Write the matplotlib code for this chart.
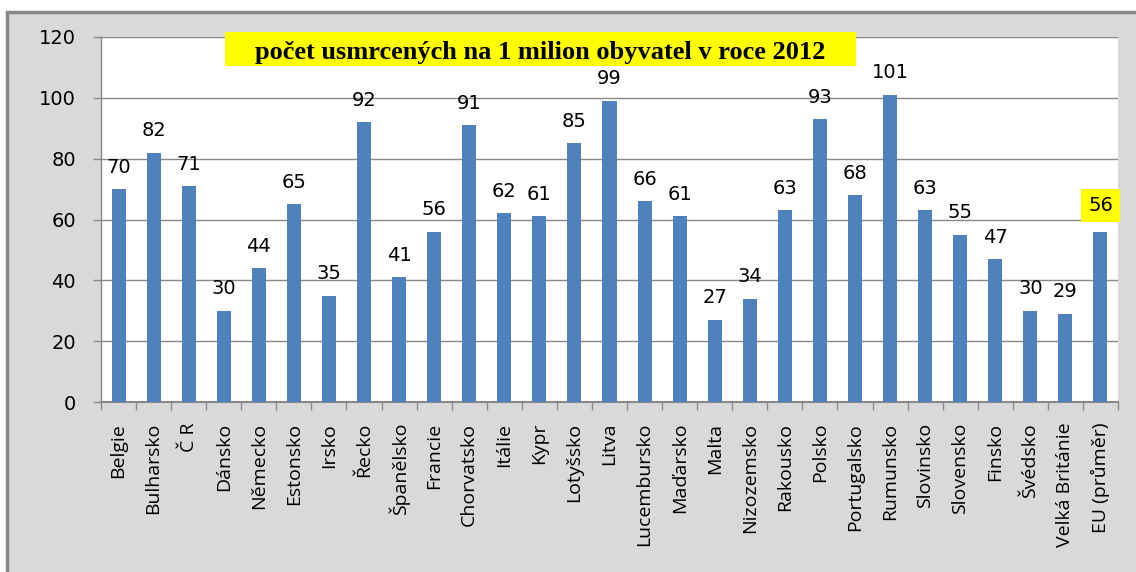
import matplotlib.pyplot as plt
import matplotlib.patches as mpatches
import numpy as np

# počet usmrcených na 1 milion obyvatel, 2012
zeme = ['Belgie', 'Bulharsko', 'Č R', 'Dánsko', 'Německo', 'Estonsko', 'Irsko',
        'Řecko', 'Španělsko', 'Francie', 'Chorvatsko', 'Itálie', 'Kypr',
        'Lotyšsko', 'Litva', 'Lucembursko', 'Maďarsko', 'Malta', 'Nizozemsko',
        'Rakousko', 'Polsko', 'Portugalsko', 'Rumunsko', 'Slovinsko',
        'Slovensko', 'Finsko', 'Švédsko', 'Velká Británie', 'EU (průměr)']
hodnoty = [70, 82, 71, 30, 44, 65, 35, 92, 41, 56, 91, 62, 61, 85, 99, 66, 61,
           27, 34, 63, 93, 68, 101, 63, 55, 47, 30, 29, 56]
yticks = [0, 20, 40, 60, 80, 100, 120]

W, H = 1136, 572
fig = plt.figure(figsize=(W/100, H/100), dpi=100)
fig.patch.set_facecolor('white')

# grey chart area with dark frame
fig.patches.append(mpatches.Rectangle((7/W, -0.05), 1.2, 1 - 12/H + 0.05,
                                      transform=fig.transFigure,
                                      facecolor='#d9d9d9', edgecolor='#878787',
                                      linewidth=2.5, zorder=-10))

ax = fig.add_axes([101/W, 1 - 402/H, (1118 - 101)/W, (402 - 37)/H])
ax.set_zorder(2)
ax.set_facecolor('white')

x = np.arange(len(zeme))
ax.bar(x, hodnoty, width=0.4, color='#4f81bd', zorder=3)

ax.set_xlim(-0.5, len(zeme) - 0.5)
ax.set_ylim(0, 120)
ax.set_yticks(yticks)
ax.set_yticklabels([str(v) for v in yticks], fontsize=14, family='DejaVu Sans')
ax.yaxis.grid(True, color='#888888', linewidth=1)
ax.set_axisbelow(True)

for s in ['top', 'right']:
    ax.spines[s].set_visible(False)
ax.spines['left'].set_color('#888888')
ax.spines['bottom'].set_color('#888888')
ax.spines['left'].set_linewidth(1)
ax.spines['bottom'].set_linewidth(1.5)
ax.tick_params(axis='y', length=6, width=1, color='#888888', pad=12)

ax.set_xticks(x)
ax.set_xticklabels(zeme, rotation=90, fontsize=14, family='Open Sans')
ax.tick_params(axis='x', length=0, pad=15)
ax.set_xticks(np.arange(len(zeme) + 1) - 0.5, minor=True)
ax.tick_params(axis='x', which='minor', length=6, width=1, color='#888888')

for i, v in enumerate(hodnoty):
    if i == len(hodnoty) - 1:
        ax.annotate(str(v), (i, v), xytext=(0, 12), textcoords='offset points',
                    ha='center', va='bottom', fontsize=14, family='DejaVu Sans',
                    bbox=dict(facecolor='yellow', edgecolor='none', pad=5))
    else:
        ax.annotate(str(v), (i, v), xytext=(0, 9), textcoords='offset points',
                    ha='center', va='bottom', fontsize=14, family='DejaVu Sans')

# title in yellow box
fig.patches.append(mpatches.Rectangle((225/W, 1 - 66/H), (856 - 225)/W, 34/H,
                                      transform=fig.transFigure,
                                      facecolor='yellow', edgecolor='none', zorder=5))
fig.text((225 + 856)/2/W, 1 - 52/H, 'počet usmrcených na 1 milion obyvatel v roce 2012',
         ha='center', va='center', fontsize=19, fontweight='bold',
         family='Liberation Serif', zorder=6)

fig.savefig('out.png', dpi=100)
